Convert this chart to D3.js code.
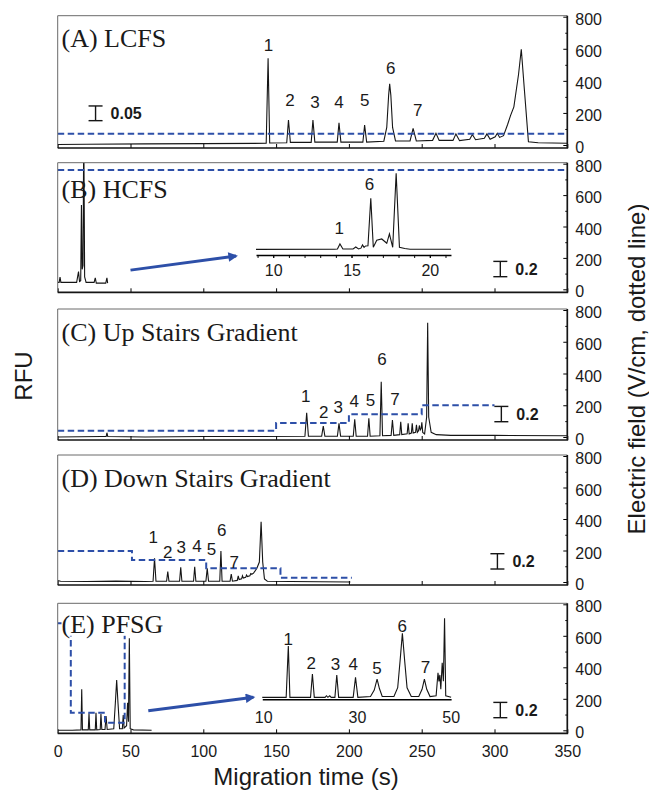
<!DOCTYPE html>
<html>
<head>
<meta charset="utf-8">
<script src="https://cdn.jsdelivr.net/npm/d3@7"></script>
<style>
  body { margin: 0; background: #fff; }
  svg text { font-family: Arial, "Liberation Sans", Helvetica, sans-serif; fill: #1a1a1a; }
</style>
</head>
<body>
<div id="chart"></div>
<script>
// Electropherograms under five field programs (LCFS, HCFS, up/down stairs, PFSG).
// Traces are [time (s), RFU] vertices; dotted blue line is
// the applied electric field in V/cm on the right-hand axis.

const timeTicks = [0, 50, 100, 150, 200, 250, 300, 350];
const fieldTicks = [0, 200, 400, 600, 800];
const fieldMinorTicks = [100, 300, 500, 700];
const panelTitles = ["(A) LCFS", "(B) HCFS", "(C) Up Stairs Gradient", "(D) Down Stairs Gradient", "(E) PFSG"];

const traceA = [[0, 0.012], [20, 0.013], [60, 0.014], [100, 0.015], [143.2, 0.016], [144.5, 0.305], [145.6, 0.017],
  [157.3, 0.018], [158.5, 0.095], [159.8, 0.019], [174.1, 0.019], [175.3, 0.095], [176.6, 0.02],
  [192, 0.02], [193.2, 0.086], [194.5, 0.02], [209.6, 0.02], [210.8, 0.078], [212.2, 0.02],
  [224, 0.023], [226, 0.07], [227.3, 0.18], [228, 0.218], [228.8, 0.18], [230, 0.07], [232, 0.024],
  [242, 0.024], [244.1, 0.067], [246.3, 0.024], [257.5, 0.026], [259.8, 0.05], [262, 0.026],
  [271.5, 0.026], [273.5, 0.048], [276, 0.025], [283, 0.03], [284.8, 0.046], [287, 0.028],
  [293, 0.033], [294.8, 0.048], [297, 0.03], [300.5, 0.038], [301.9, 0.05], [303.5, 0.036],
  [306.2, 0.042], [309, 0.08], [311, 0.11], [313.3, 0.14], [316.5, 0.25], [318.4, 0.336],
  [320.5, 0.2], [323.3, 0.021], [330, 0.018], [350, 0.016]];

const traceB = [[0, 0.13], [1, 0.13], [1.6, 0.2], [2.2, 0.13], [13, 0.13], [14.3, 0.27], [15, 0.14],
  [15.8, 0.15], [16.3, 1.14], [16.8, 0.3], [17.4, 0.35], [17.9, 2.2], [18.5, 0.2], [19.5, 0.13],
  [25, 0.13], [25.8, 0.19], [26.5, 0.12], [33, 0.12], [33.8, 0.19], [34.3, 0.12]];

const traceC = [[0, 0.04], [30, 0.045], [33.3, 0.045], [33.8, 0.095], [34.4, 0.045], [60, 0.04], [100, 0.045],
  [140, 0.045], [169.8, 0.05], [171, 0.357], [172.2, 0.05], [181.3, 0.05], [182.4, 0.183], [183.5, 0.05],
  [192.1, 0.05], [193.2, 0.218], [194.3, 0.05], [203, 0.05], [204, 0.27], [205, 0.05],
  [212.8, 0.05], [213.7, 0.284], [214.6, 0.05], [221.3, 0.055], [222.2, 0.762], [223.1, 0.055],
  [229, 0.06], [229.9, 0.261], [230.8, 0.06], [234.9, 0.07], [235.6, 0.239], [236.3, 0.07],
  [240, 0.08], [240.7, 0.218], [241.4, 0.08], [242.9, 0.09], [243.5, 0.218], [244.1, 0.09],
  [245.8, 0.1], [246.4, 0.2], [247, 0.1], [247.8, 0.12], [248.4, 0.19], [249, 0.13],
  [249.6, 0.15], [250.1, 0.23], [250.7, 0.1], [252, 0.08], [253.4, 0.3], [254.1, 1.533],
  [254.8, 0.3], [256.5, 0.1], [260, 0.07], [270, 0.06], [300, 0.06], [350, 0.055]];

const traceD = [[0, 0.06], [2, 0.05], [20, 0.045], [40, 0.05], [60, 0.045], [65.5, 0.05], [66.5, 0.349], [67.5, 0.05],
  [74.8, 0.05], [75.6, 0.174], [76.4, 0.05], [83.7, 0.05], [84.5, 0.231], [85.3, 0.05],
  [93.3, 0.05], [94.1, 0.239], [94.9, 0.05], [101.8, 0.05], [102.7, 0.218], [103.6, 0.05],
  [111.3, 0.05], [112.1, 0.444], [112.9, 0.05], [118.4, 0.05], [119.2, 0.144], [120, 0.05],
  [123.3, 0.06], [124, 0.118], [124.6, 0.07], [126.3, 0.08], [126.9, 0.12], [127.5, 0.09],
  [129.1, 0.1], [129.7, 0.13], [130.3, 0.11], [132, 0.12], [132.6, 0.15], [133.3, 0.14],
  [134.5, 0.155], [136.8, 0.218], [138.5, 0.3], [139.7, 0.827], [140.8, 0.3], [142, 0.08],
  [144, 0.05], [160, 0.045], [201, 0.04]];

const traceE = [[0, 0.04], [10, 0.04], [16, 0.045], [16.5, 0.575], [17, 0.045], [21, 0.045], [21.5, 0.261], [22, 0.045],
  [25.8, 0.045], [26.3, 0.269], [26.8, 0.045], [29.2, 0.05], [29.7, 0.252], [30.3, 0.05],
  [32.5, 0.05], [33.2, 0.226], [34, 0.05], [38.5, 0.06], [39.6, 0.4], [40.5, 0.697], [41.4, 0.4],
  [42.5, 0.06], [44.4, 0.06], [45, 0.239], [45.6, 0.07], [47.3, 0.1], [48, 0.4], [48.6, 0.15],
  [49.2, 1.242], [49.8, 0.06], [52, 0.045], [64.5, 0.04]];

// applied field, V/cm
const fieldA = [[0, 70], [350, 70]];
const fieldB = [[0, 760], [350, 760]];
const fieldC = [[0, 40], [150, 40], [150, 88], [200, 88], [200, 143], [250, 143], [250, 200], [300, 200]];
const fieldD = [[0, 197], [51, 197], [51, 140], [102, 140], [102, 87], [153, 87], [153, 27], [202, 27]];
const fieldE = [[0, 680], [9, 680], [9, 112], [32.5, 112], [32.5, 48], [46, 48], [46, 680], [55, 680]];

const peakLabelsA = [["1", 144.8, 0.35], ["2", 159.5, 0.163], ["3", 176.7, 0.157], ["4", 193.2, 0.157],
  ["5", 210.9, 0.163], ["6", 228.8, 0.271], ["7", 247.3, 0.129]];
const peakLabelsC = [["1", 170.4, 0.578], ["2", 182.7, 0.37], ["3", 192.6, 0.427], ["4", 203.7, 0.514],
  ["5", 214.8, 0.523], ["6", 222.8, 1.055], ["7", 231.7, 0.532]];
const peakLabelsD = [["1", 65.7, 0.624], ["2", 75.6, 0.435], ["3", 84.8, 0.5], ["4", 95.6, 0.513],
  ["5", 105.6, 0.471], ["6", 112.6, 0.719], ["7", 121.2, 0.305]];

// zoomed insets (time in s, relative height)
const insetTraceB = [[8.9, 0.045], [13.9, 0.046], [14.1, 0.05], [14.26, 0.112], [14.45, 0.05], [15.1, 0.05],
  [15.27, 0.075], [15.45, 0.05], [15.6, 0.06], [15.7, 0.1], [15.8, 0.07], [15.9, 0.088], [16.05, 0.09],
  [16.23, 0.684], [16.39, 0.071], [16.61, 0.16], [16.93, 0.175], [17.25, 0.121], [17.42, 0.238],
  [17.63, 0.071], [17.85, 0.996], [18.06, 0.07], [18.4, 0.055], [18.74, 0.046], [21.35, 0.046]];
const insetTicksB = [10, 15, 20];
const insetMinorTicksB = [9, 10, 11, 12, 13, 14, 15, 16, 17, 18, 19, 20, 21];
const insetLabelsB = [["1", 14.22, 0.316], ["6", 16.14, 0.8625]];

const insetTraceE = [[9.8, 0], [14.9, 0], [15.36, 0.641], [15.7, 0], [20.1, 0], [20.5, 0.291], [20.9, 0],
  [23.2, 0], [23.5, 0.02], [23.8, 0], [24.2, 0.02], [24.5, 0], [25.3, 0], [25.7, 0.279], [26.1, 0],
  [29.2, 0], [29.7, 0.25], [30.2, 0], [32.9, 0.01], [33.3, 0.05], [33.7, 0.09], [34.3, 0.229],
  [34.8, 0.11], [35.4, 0.01], [37.9, 0.01], [38.7, 0.12], [39.2, 0.45], [39.7, 0.8], [40.2, 0.45],
  [40.7, 0.12], [41.6, 0.01], [43.2, 0.01], [43.9, 0.1], [44.4, 0.229], [44.9, 0.1], [45.6, 0.01],
  [46.9, 0.02], [47.3, 0.308], [47.5, 0.2], [47.7, 0.28], [47.9, 0.1], [48.2, 0.433], [48.45, 0.2],
  [48.7, 0.988], [48.95, 0.02], [50.1, 0]];
const insetTicksE = [10, 30, 50];
const insetLabelsE = [["1", 15.36, 0.725], ["2", 20.23, 0.4325], ["3", 25.4, 0.4125], ["4", 29.2, 0.4125],
  ["5", 34.3, 0.37], ["6", 39.65, 0.891], ["7", 44.65, 0.3825]];

const scaleBarValues = [0.05, 0.2, 0.2, 0.2, 0.2];
const scaleBarLabels = ["0.05", "0.2", "0.2", "0.2", "0.2"];

// ---- layout ----
const W = 649, H = 796;
const BLUE = "#2d4fa8";
const panelTop = [15.7, 162.7, 309, 455, 603.3];
const panelBottom = [148, 292.3, 440, 585, 733.3];
const titleDy = [31, 35.5, 31.5, 31.5, 29.5];
const pxPerRFU = [294, 76.5, 76.5, 76.5, 76.5];
const scaleBarAt = [[26, 0.093], [304, 0.204], [304.7, 0.239], [302, 0.209], [304, 0.204]];

const panels = [
  { trace: traceA, field: fieldA, peaks: peakLabelsA },
  { trace: traceB, field: fieldB, peaks: [] },
  { trace: traceC, field: fieldC, peaks: peakLabelsC },
  { trace: traceD, field: fieldD, peaks: peakLabelsD },
  { trace: traceE, field: fieldE, peaks: [], titleBg: true },
];

const insets = [
  { panel: 1, domain: [8.9, 21.35], place: [136.2, 270.1, 0.488], trace: insetTraceB, ticks: insetTicksB,
    minor: insetMinorTicksB, labels: insetLabelsB, arrow: [[50, 0.29], [122.5, 0.475]], pad: 7 },
  { panel: 4, domain: [9.8, 50.1], place: [140.5, 270.2, 0.444], trace: insetTraceE, ticks: insetTicksE,
    minor: [], labels: insetLabelsE, arrow: [[62.2, 0.295], [134.4, 0.47]], pad: 12 },
];

const svg = d3.select("#chart").append("svg").attr("width", W).attr("height", H);

svg.append("defs").append("marker")
  .attr("id", "arrowhead").attr("viewBox", "0 0 10 10")
  .attr("refX", 8).attr("refY", 5)
  .attr("markerWidth", 4).attr("markerHeight", 3.2)
  .attr("orient", "auto")
  .append("path").attr("d", "M0,0L10,5L0,10Z").attr("fill", BLUE);

const x = d3.scaleLinear().domain([0, 350]).range([57.7, 567.3]);
const yScales = [];

panels.forEach((p, i) => {
  const top = panelTop[i], bot = panelBottom[i];
  const y = d3.scaleLinear().domain([0, (bot - top) / pxPerRFU[i]]).range([bot, top]);
  const yF = d3.scaleLinear().domain([0, 800]).range([bot - 3, top + 1]);
  yScales.push(y);

  const g = svg.append("g");
  g.append("clipPath").attr("id", "clip" + i)
    .append("rect").attr("x", x(0)).attr("y", top).attr("width", x(350) - x(0)).attr("height", bot - top);
  const plot = g.append("g").attr("clip-path", `url(#clip${i})`);

  plot.append("path").datum(p.trace)
    .attr("d", d3.line().x(d => x(d[0])).y(d => y(d[1])))
    .attr("fill", "none").attr("stroke", "#151515").attr("stroke-width", 1.1);

  plot.append("path").datum(p.field)
    .attr("d", d3.line().x(d => x(d[0])).y(d => yF(d[1])))
    .attr("fill", "none").attr("stroke", BLUE).attr("stroke-width", 2)
    .attr("stroke-dasharray", "6.5,3.5");

  g.selectAll(".peak").data(p.peaks).join("text")
    .attr("x", d => x(d[1])).attr("y", d => y(d[2]))
    .attr("dy", "0.36em").attr("text-anchor", "middle").attr("font-size", 17)
    .text(d => d[0]);

  // scale bar
  const [bt, bv] = scaleBarAt[i];
  const bx = x(bt), by0 = y(bv), by1 = y(bv + scaleBarValues[i]);
  const sb = g.append("g").attr("stroke", "#151515").attr("stroke-width", 1.4);
  sb.append("line").attr("x1", bx).attr("x2", bx).attr("y1", by0).attr("y2", by1);
  sb.append("line").attr("x1", bx - 7).attr("x2", bx + 7).attr("y1", by0).attr("y2", by0);
  sb.append("line").attr("x1", bx - 7).attr("x2", bx + 7).attr("y1", by1).attr("y2", by1);
  g.append("text").attr("x", bx + 15).attr("y", (by0 + by1) / 2).attr("dy", "0.36em")
    .attr("font-size", 16).attr("font-weight", "bold").text(scaleBarLabels[i]);

  // title
  const title = g.append("text").attr("x", 61.5).attr("y", top + titleDy[i])
    .style("font-family", "'Liberation Serif', 'Times New Roman', Times, serif")
    .attr("font-size", 26).text(panelTitles[i]);
  if (p.titleBg) {
    const bb = title.node().getBBox();
    g.insert("rect", "text").attr("x", bb.x).attr("y", bb.y + 3).attr("width", bb.width).attr("height", bb.height - 6)
      .attr("fill", "#fff");
    title.raise();
  }

  // right field axis
  const ra = g.append("g").attr("transform", `translate(${x(350)},0)`)
    .call(d3.axisRight(yF).tickValues(fieldTicks).tickSize(-4).tickPadding(8).tickFormat(d3.format("d")));
  ra.select(".domain").remove();
  ra.attr("font-size", 16).attr("font-family", null);
  ra.selectAll("text").attr("transform", "translate(0,2.5)");
  const rm = g.append("g").attr("transform", `translate(${x(350)},0)`)
    .call(d3.axisRight(yF).tickValues(fieldMinorTicks).tickSize(-2).tickFormat(() => ""));
  rm.select(".domain").remove();

  // bottom time axis
  const last = i === panels.length - 1;
  const ba = g.append("g").attr("transform", `translate(0,${bot})`)
    .call(d3.axisBottom(x).tickValues(timeTicks).tickSize(-4).tickPadding(12)
      .tickFormat(last ? d3.format("d") : () => ""));
  ba.select(".domain").remove();
  ba.attr("font-size", 16).attr("font-family", null);

  // frame: light top/left, heavy bottom/right
  g.append("path").attr("d", `M${x(0)},${bot}V${top}H${x(350)}`)
    .attr("fill", "none").attr("stroke", "#6a6a6a").attr("stroke-width", 1);
  g.append("path").attr("d", `M${x(0)},${bot}H${x(350)}V${top}`)
    .attr("fill", "none").attr("stroke", "#151515").attr("stroke-width", 1.7);
});

insets.forEach(ins => {
  const y = yScales[ins.panel];
  const x0 = x(ins.place[0]), x1 = x(ins.place[1]), axisY = y(ins.place[2]);
  const ix = d3.scaleLinear().domain(ins.domain).range([x0, x1]);
  const iy = d3.scaleLinear().domain([0, 1]).range([axisY - 2, axisY - 82]);
  const g = svg.append("g");

  g.append("path").datum(ins.trace)
    .attr("d", d3.line().x(d => ix(d[0])).y(d => iy(d[1])))
    .attr("fill", "none").attr("stroke", "#151515").attr("stroke-width", 1.1);

  const ax = g.append("g").attr("transform", `translate(0,${axisY})`)
    .call(d3.axisBottom(ix).tickValues(ins.ticks).tickSize(ins.minor.length ? 3 : 0)
      .tickSizeOuter(0).tickPadding(ins.pad).tickFormat(d3.format("d")));
  ax.attr("font-size", 16).attr("font-family", null);
  ax.select(".domain").attr("stroke-width", 1.5);
  if (ins.minor.length) {
    const mx = g.append("g").attr("transform", `translate(0,${axisY})`)
      .call(d3.axisBottom(ix).tickValues(ins.minor).tickSize(3).tickFormat(() => ""));
    mx.select(".domain").remove();
  }

  g.selectAll(".ilab").data(ins.labels).join("text")
    .attr("x", d => ix(d[1])).attr("y", d => iy(d[2]))
    .attr("dy", "0.36em").attr("text-anchor", "middle").attr("font-size", 17)
    .text(d => d[0]);

  g.append("line")
    .attr("x1", x(ins.arrow[0][0])).attr("y1", y(ins.arrow[0][1]))
    .attr("x2", x(ins.arrow[1][0])).attr("y2", y(ins.arrow[1][1]))
    .attr("stroke", BLUE).attr("stroke-width", 3).attr("marker-end", "url(#arrowhead)");
});

// axis titles
svg.append("text").attr("transform", "translate(31.5,376) rotate(-90)")
  .attr("text-anchor", "middle").attr("font-size", 24).text("RFU");
svg.append("text").attr("transform", "translate(645,369) rotate(-90)")
  .attr("text-anchor", "middle").attr("font-size", 24).text("Electric field (V/cm, dotted line)");
svg.append("text").attr("x", 306).attr("y", 785)
  .attr("text-anchor", "middle").attr("font-size", 24).text("Migration time (s)");
</script>
</body>
</html>
